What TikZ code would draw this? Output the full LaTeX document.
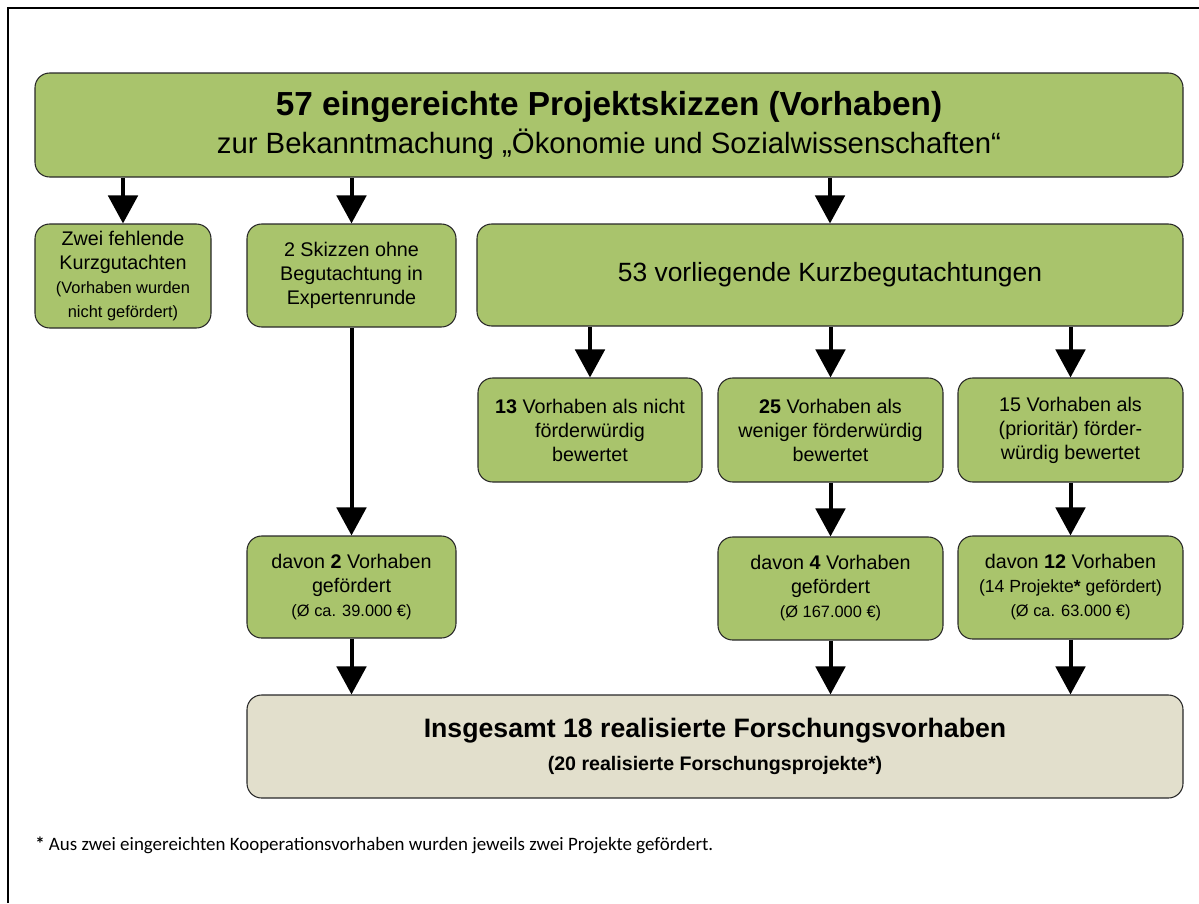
\documentclass[tikz,border=0pt]{standalone}
\usepackage{fontspec}
\setmainfont{Liberation Sans}
\newfontfamily\notefont{Carlito}
\usetikzlibrary{arrows.meta}
\definecolor{boxgreen}{RGB}{169,196,108}
\definecolor{boxbeige}{RGB}{226,223,204}
\newcommand{\midsz}{\fontsize{14.8}{18}\selectfont}
\newcommand{\smlsz}{\fontsize{12.3}{15}\selectfont}
\tikzset{
  flowbox/.style={draw={rgb,255:red,40;green,40;blue,40}, line width=0.8pt, rounded corners=11pt,
    fill=boxgreen, align=center, inner sep=2pt, font=\midsz},
  sumbox/.style={flowbox, fill=boxbeige},
  flowarr/.style={line width=3pt, -{Triangle[width=22pt,length=21pt]}},
}
\begin{document}
\begin{tikzpicture}[x=0.75pt,y=0.75pt,yscale=-1,xscale=1]
\useasboundingbox (0,0) rectangle (1199,903);
%frame
\draw [line width=0.8pt] (8,903) -- (8,8) -- (1199,8) ;

% Top box
\node [flowbox, minimum width=861pt, minimum height=78pt, font=\fontsize{25}{28.5}\selectfont] (top) at (609,125)
  {\textbf{57 eingereichte Projektskizzen (Vorhaben)}\\ \fontsize{22}{28.5}\selectfont zur Bekanntmachung „Ökonomie und Sozialwissenschaften“};
% Second row
\node [flowbox, minimum width=132pt, minimum height=78pt] (missing) at (123,276)
  {Zwei fehlende\\ Kurzgutachten\\ \smlsz (Vorhaben wurden\\ \smlsz nicht gefördert)};
\node [flowbox, minimum width=156.75pt, minimum height=77.25pt] (expert) at (351.5,275.5)
  {2 Skizzen ohne\\ Begutachtung in\\ Expertenrunde};
\node [flowbox, minimum width=529.5pt, minimum height=76.5pt, font=\fontsize{19.8}{24}\selectfont] (reviews) at (830,275)
  {53 vorliegende Kurzbegutachtungen};
% Third row
\node [flowbox, minimum width=168pt, minimum height=78pt] (notfund) at (590,430)
  {\textbf{13} Vorhaben als nicht\\ förderwürdig\\ bewertet};
\node [flowbox, minimum width=168.75pt, minimum height=78pt] (lessfund) at (830.5,430)
  {\textbf{25} Vorhaben als\\ weniger förderwürdig\\ bewertet};
\node [flowbox, minimum width=168.75pt, minimum height=78pt] (prio) at (1070.5,430)
  {15 Vorhaben als\\ (prioritär) förder-\\ würdig bewertet};
% Fourth row
\node [flowbox, minimum width=156.75pt, minimum height=76.5pt] (fundA) at (351.5,587)
  {davon \textbf{2} Vorhaben\\ gefördert\\ \smlsz (Ø ca. 39.000 €)};
\node [flowbox, minimum width=168.75pt, minimum height=77.25pt] (fundB) at (830.5,588.5)
  {davon \textbf{4} Vorhaben\\ gefördert\\ \smlsz (Ø 167.000 €)};
\node [flowbox, minimum width=168.75pt, minimum height=77.25pt] (fundC) at (1070.5,587.5)
  {davon \textbf{12} Vorhaben\\ \fontsize{13.2}{15.5}\selectfont(14 Projekte\textbf{*} gefördert)\\ \smlsz (Ø ca. 63.000 €)};
% Total
\node [sumbox, minimum width=702pt, minimum height=77.25pt, font=\fontsize{20}{24.75}\selectfont\bfseries] (total) at (715,746.5)
  {Insgesamt 18 realisierte Forschungsvorhaben\\ \fontsize{14.7}{24.75}\selectfont (20 realisierte Forschungsprojekte*)};

% Arrows
\draw [flowarr] (top.south -| missing.north) -- (missing.north) ;
\draw [flowarr] (top.south -| expert.north) -- (expert.north) ;
\draw [flowarr] (top.south -| reviews.north) -- (reviews.north) ;
\draw [flowarr] (reviews.south -| notfund.north) -- (notfund.north) ;
\draw [flowarr] (reviews.south -| lessfund.north) -- (lessfund.north) ;
\draw [flowarr] (reviews.south -| prio.north) -- (prio.north) ;
\draw [flowarr] (expert.south) -- (fundA.north) ;
\draw [flowarr] (lessfund.south) -- (fundB.north) ;
\draw [flowarr] (prio.south) -- (fundC.north) ;
\draw [flowarr] (fundA.south) -- (fundA.south |- total.north) ;
\draw [flowarr] (fundB.south) -- (fundB.south |- total.north) ;
\draw [flowarr] (fundC.south) -- (fundC.south |- total.north) ;

% Footnote
\node [anchor=west, inner sep=0pt, font=\notefont\fontsize{14.2}{16}\selectfont] (note) at (35,845)
  {\textbf{*} Aus zwei eingereichten Kooperationsvorhaben wurden jeweils zwei Projekte gefördert.};
\end{tikzpicture}
\end{document}
